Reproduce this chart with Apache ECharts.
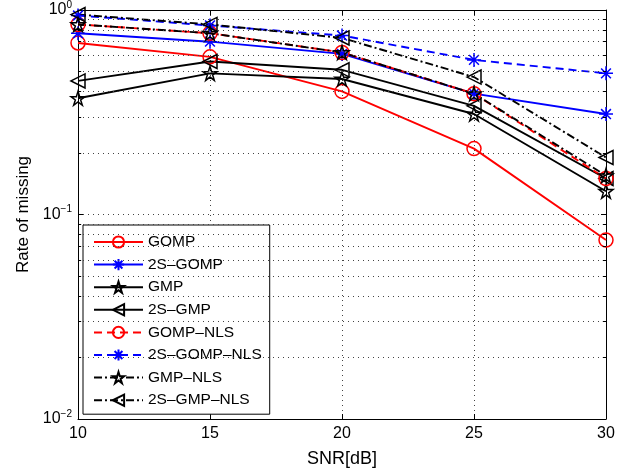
<!DOCTYPE html>
<html>
<head>
<meta charset="utf-8">
<script src="https://cdn.jsdelivr.net/npm/echarts@6/dist/echarts.min.js"></script>
<style>
  html, body { margin: 0; padding: 0; background: #fff; }
  #chart { width: 633px; height: 473px; }
</style>
</head>
<body>
<div id="chart"></div>
<script>
// data
const snr = [10, 15, 20, 25, 30];
const gomp      = [0.69, 0.59, 0.40, 0.21, 0.075];
const gomp2s    = [0.77, 0.70, 0.61, 0.39, 0.31];
const gmp       = [0.37, 0.49, 0.46, 0.31, 0.13];
const gmp2s     = [0.45, 0.56, 0.51, 0.34, 0.15];
const gompNls   = [0.85, 0.77, 0.62, 0.39, 0.15];
const gomp2sNls = [0.94, 0.84, 0.75, 0.57, 0.49];
const gmpNls    = [0.85, 0.77, 0.62, 0.39, 0.155];
const gmp2sNls  = [0.95, 0.85, 0.73, 0.47, 0.19];
const xTicks = [10, 15, 20, 25, 30];
const yMinor = [0.02, 0.03, 0.04, 0.05, 0.06, 0.07, 0.08, 0.09,
                0.2, 0.3, 0.4, 0.5, 0.6, 0.7, 0.8, 0.9];
const names = ['GOMP', '2S\u2013GOMP', 'GMP', '2S\u2013GMP', 'GOMP\u2013NLS',
               '2S\u2013GOMP\u2013NLS', 'GMP\u2013NLS', '2S\u2013GMP\u2013NLS'];

const FONT = 'Liberation Sans';
const asterisk = 'path://M0,-10L0,10M-10,0L10,0M-7,-7L7,7M-7,7L7,-7';
const star = 'path://M0,-10L2.245,-3.09L9.51,-3.09L3.63,1.18L5.88,8.09L0,3.82L-5.88,8.09L-3.63,1.18L-9.51,-3.09L-2.245,-3.09Z';
const dotted = { color: '#444', type: [1, 4], width: 1 };

function mk(name, vals, color, type, symbol, rotate) {
  return {
    name: name,
    type: 'line',
    data: snr.map((x, i) => [x, vals[i]]),
    symbol: symbol,
    symbolSize: 14,
    symbolRotate: rotate || 0,
    showAllSymbol: true,
    lineStyle: { color: color, width: 1.9, type: type },
    itemStyle: { color: 'rgba(0,0,0,0)', borderColor: color, borderWidth: 1.5 },
    emphasis: { disabled: true },
    animation: false
  };
}

// minor grid lines and minor ticks of the log axis (2..9 x 10^k)
const minorGrid = yMinor.map(v => ({ yAxis: v, lineStyle: dotted }));
const minorTicks = [];
yMinor.forEach(v => {
  minorTicks.push([{ coord: [10, v] }, { coord: [10.12, v] }]);
  minorTicks.push([{ coord: [29.88, v] }, { coord: [30, v] }]);
});

const first = mk(names[0], gomp, '#ff0000', 'solid', 'circle');
first.markLine = {
  silent: true,
  symbol: 'none',
  animation: false,
  label: { show: false },
  lineStyle: { color: '#000', type: 'solid', width: 1 },
  data: minorGrid.concat(minorTicks)
};

const chart = echarts.init(document.getElementById('chart'));
chart.setOption({
  backgroundColor: '#fff',
  animation: false,
  grid: { left: 78, right: 27, top: 10, bottom: 53 },
  legend: {
    orient: 'vertical',
    left: 83,
    top: 225,
    itemWidth: 49,
    itemHeight: 14,
    itemGap: 6.6,
    padding: [9, 8, 6, 10],
    borderColor: '#000',
    borderWidth: 1,
    backgroundColor: '#fff',
    textStyle: { fontFamily: FONT, fontSize: 15.5, color: '#000' },
    data: names
  },
  xAxis: [{
    type: 'value', min: 10, max: 30, interval: 5,
    name: 'SNR[dB]', nameLocation: 'middle', nameGap: 31,
    nameTextStyle: { fontFamily: FONT, fontSize: 18, color: '#000' },
    axisLine: { lineStyle: { color: '#000', width: 1 } },
    axisTick: { inside: true, length: 5, lineStyle: { color: '#000' } },
    axisLabel: { fontFamily: FONT, fontSize: 16, color: '#000', margin: 7,
      formatter: v => xTicks.includes(v) ? String(v) : '' },
    splitLine: { show: true, lineStyle: dotted }
  }, {
    type: 'value', min: 10, max: 30, interval: 5, position: 'top',
    axisLine: { show: true, lineStyle: { color: '#000', width: 1 } },
    axisTick: { inside: true, length: 5, lineStyle: { color: '#000' } },
    axisLabel: { show: false }, splitLine: { show: false }
  }],
  yAxis: [{
    type: 'log', logBase: 10, min: 0.01, max: 1, interval: 1,
    name: 'Rate of missing', nameLocation: 'middle', nameGap: 40,
    nameTextStyle: { fontFamily: FONT, fontSize: 17, color: '#000' },
    axisLine: { show: true, lineStyle: { color: '#000', width: 1 } },
    axisTick: { inside: true, length: 5, lineStyle: { color: '#000' } },
    axisLabel: {
      fontFamily: FONT, fontSize: 16, color: '#000', margin: 6,
      formatter: v => '10{s|' + Math.round(Math.log10(v)).toString().replace('-', '\u2212') + '}',
      rich: { s: { fontFamily: FONT, fontSize: 10, verticalAlign: 'top', padding: [0, 0, 10, 0] } }
    },
    splitLine: { show: true, lineStyle: dotted }
  }, {
    type: 'log', logBase: 10, min: 0.01, max: 1, interval: 1, position: 'right',
    axisLine: { show: true, lineStyle: { color: '#000', width: 1 } },
    axisTick: { inside: true, length: 5, lineStyle: { color: '#000' } },
    axisLabel: { show: false }, splitLine: { show: false }
  }],
  series: [
    first,
    mk(names[1], gomp2s, '#0000ff', 'solid', asterisk),
    mk(names[2], gmp, '#000000', 'solid', star),
    mk(names[3], gmp2s, '#000000', 'solid', 'triangle', 90),
    mk(names[4], gompNls, '#ff0000', [8, 5], 'circle'),
    mk(names[5], gomp2sNls, '#0000ff', [8, 5], asterisk),
    mk(names[6], gmpNls, '#000000', [8, 3, 2, 3], star),
    mk(names[7], gmp2sNls, '#000000', [8, 3, 2, 3], 'triangle', 90)
  ]
});
</script>
</body>
</html>
